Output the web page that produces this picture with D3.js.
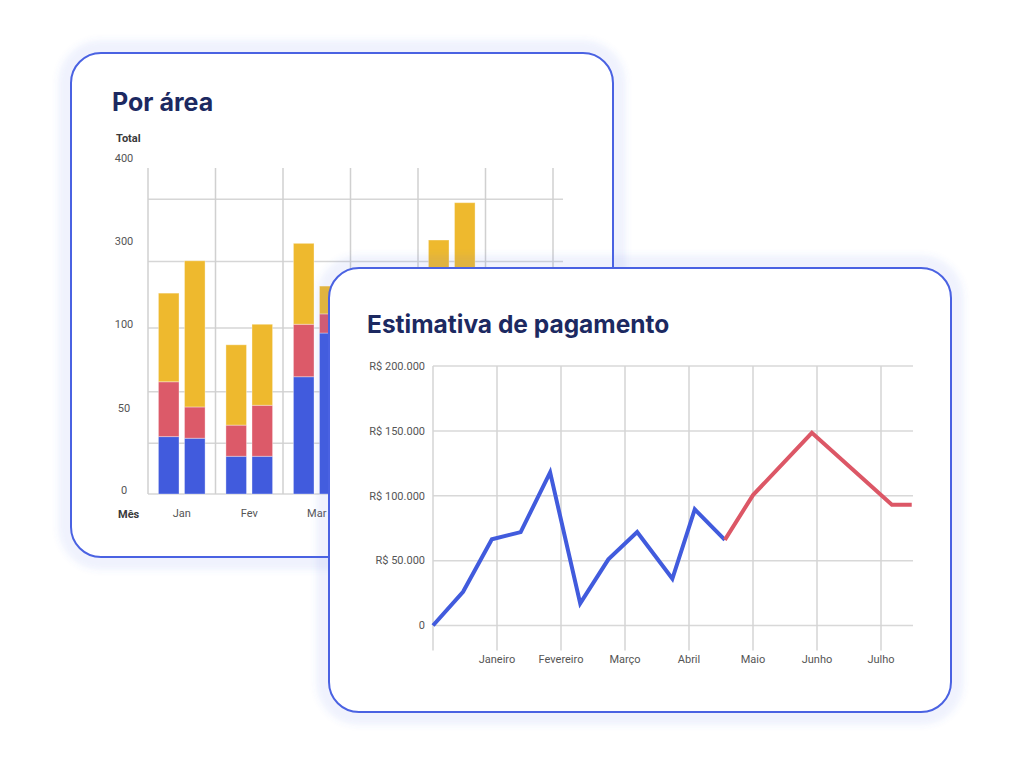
<!DOCTYPE html>
<html>
<head>
<meta charset="utf-8">
<script src="https://cdnjs.cloudflare.com/ajax/libs/d3/7.8.5/d3.min.js"></script>
<style>
    html, body { margin: 0; padding: 0; background: #fff; }
    svg { display: block; }
    .title { font-family: Inter, "Noto Sans", sans-serif; font-weight: 700; fill: #1c2961; }
    .lbl { font-family: Roboto, "Liberation Sans", sans-serif; font-size: 11px; fill: #555; }
    .lbl-bold { font-family: Roboto, "Liberation Sans", sans-serif; font-size: 11px; font-weight: 700; fill: #3a3a3a; }
</style>
</head>
<body>
<div id="chart"></div>
<script>
/* Por área: two stacked bars per month */
var barMonths = ["Jan", "Fev", "Mar", "Abr", "Mai", "Jun"];
var barTicks = [0, 50, 100, 300, 400];
var barGridValues = [0, 31, 62, 100, 260, 355];
var barSeries = ["azul", "vermelho", "amarelo"];

var azul1 = [35, 23, 71, 60, 80, 50];
var vermelho1 = [33, 19, 38, 30, 40, 30];
var amarelo1 = [116, 48, 193, 120, 186, 120];
var azul2 = [34, 23, 97, 70, 90, 60];
var vermelho2 = [19, 31, 37, 25, 50, 35];
var amarelo2 = [209, 55, 67, 100, 211, 130];

/* Estimativa de pagamento */
var lineMonths = ["Janeiro", "Fevereiro", "Março", "Abril", "Maio", "Junho", "Julho"];
var lineTicks = [0, 50000, 100000, 150000, 200000];
var realMonth = [0, 0.47, 0.92, 1.37, 1.83, 2.3, 2.74, 3.19, 3.74, 4.09, 4.56];
var realValue = [0, 26000, 66500, 72000, 118000, 17000, 51000, 72000, 36000, 89500, 66000];
var forecastMonth = [4.56, 5.0, 5.92, 7.17, 7.48];
var forecastValue = [66000, 100500, 148500, 93000, 93000];

var colors = { azul: "#415bdd", vermelho: "#dc5a69", amarelo: "#eeb92e" };

var svg = d3.select("#chart").append("svg")
    .attr("width", 1024)
    .attr("height", 765);

var defs = svg.append("defs");
defs.append("filter").attr("id", "soft")
    .attr("x", "-10%").attr("y", "-10%").attr("width", "120%").attr("height", "120%")
    .append("feGaussianBlur").attr("stdDeviation", 3);

function drawCard(x, y, w, h) {
    var g = svg.append("g");
    g.append("rect")
        .attr("x", x).attr("y", y).attr("width", w).attr("height", h)
        .attr("rx", 30)
        .attr("fill", "none")
        .attr("stroke", "#5a70e6")
        .attr("stroke-opacity", 0.09)
        .attr("stroke-width", 26)
        .attr("filter", "url(#soft)");
    g.append("rect")
        .attr("x", x).attr("y", y).attr("width", w).attr("height", h)
        .attr("rx", 30)
        .attr("fill", "#fff");
    var content = g.append("g");
    g.append("rect")
        .attr("x", x).attr("y", y).attr("width", w).attr("height", h)
        .attr("rx", 30)
        .attr("fill", "none")
        .attr("stroke", "#4a62e2")
        .attr("stroke-width", 2);
    return content;
}

function drawBars() {
    var g = drawCard(71, 53, 542, 504);

    g.append("text").attr("class", "title")
        .attr("x", 112).attr("y", 111)
        .style("font-size", "25px")
        .text("Por área");

    var x = d3.scaleBand().domain(barMonths).range([148, 553]);
    var xSub = d3.scaleBand().domain([0, 1]).range([0, x.bandwidth()])
        .paddingInner(0.21).paddingOuter(0.4);
    var y = d3.scaleLinear().domain(barTicks).range([494, 412, 328, 245, 162]);

    // grid
    g.append("g").selectAll("line")
        .data(barGridValues)
        .enter().append("line")
        .attr("x1", 148).attr("x2", 563)
        .attr("y1", function(d) { return y(d); })
        .attr("y2", function(d) { return y(d); })
        .attr("stroke", "#d6d6d6")
        .attr("stroke-width", 1.5);

    g.append("g").selectAll("line")
        .data(barMonths.concat(["end"]))
        .enter().append("line")
        .attr("x1", function(d) { return d === "end" ? x.range()[1] : x(d); })
        .attr("x2", function(d) { return d === "end" ? x.range()[1] : x(d); })
        .attr("y1", 168).attr("y2", y(0))
        .attr("stroke", "#d0d0d0")
        .attr("stroke-width", 1.5);

    var rows = [];
    barMonths.forEach(function(m, i) {
        rows.push({ month: m, sub: 0, azul: azul1[i], vermelho: vermelho1[i], amarelo: amarelo1[i] });
        rows.push({ month: m, sub: 1, azul: azul2[i], vermelho: vermelho2[i], amarelo: amarelo2[i] });
    });

    var stacked = d3.stack().keys(barSeries)(rows);

    g.append("g").selectAll("g")
        .data(stacked)
        .enter().append("g")
        .attr("fill", function(d) { return colors[d.key]; })
        .selectAll("rect")
        .data(function(d) { return d; })
        .enter().append("rect")
        .attr("x", function(d) { return x(d.data.month) + xSub(d.data.sub); })
        .attr("width", xSub.bandwidth())
        .attr("y", function(d) { return y(d[1]); })
        .attr("height", function(d) { return y(d[0]) - y(d[1]); })
        .attr("stroke", "rgba(255,255,255,0.35)")
        .attr("stroke-width", 1);

    // y labels
    g.append("text").attr("class", "lbl-bold")
        .attr("x", 116).attr("y", 138).attr("dy", "0.35em")
        .text("Total");

    g.append("g").selectAll("text")
        .data(barTicks)
        .enter().append("text")
        .attr("class", "lbl")
        .attr("x", 124)
        .attr("y", function(d) { return y(d) - 4; })
        .attr("dy", "0.35em")
        .attr("text-anchor", "middle")
        .text(function(d) { return d; });

    // x labels
    g.append("text").attr("class", "lbl-bold")
        .attr("x", 118).attr("y", 514).attr("dy", "0.35em")
        .text("Mês");

    g.append("g").selectAll("text")
        .data(barMonths)
        .enter().append("text")
        .attr("class", "lbl")
        .attr("x", function(d) { return x(d) + x.bandwidth() / 2; })
        .attr("y", 513).attr("dy", "0.35em")
        .attr("text-anchor", "middle")
        .text(function(d) { return d; });
}

function drawLine() {
    var g = drawCard(329, 268, 622, 444);

    g.append("text").attr("class", "title")
        .attr("x", 367).attr("y", 333)
        .style("font-size", "24.5px")
        .text("Estimativa de pagamento");

    var x = d3.scaleLinear().domain([0, 7.5]).range([433, 913]);
    var y = d3.scaleLinear().domain([0, 200000]).range([625.5, 366]);

    g.append("g").selectAll("line")
        .data(lineTicks)
        .enter().append("line")
        .attr("x1", x(0)).attr("x2", x(7.5))
        .attr("y1", function(d) { return y(d); })
        .attr("y2", function(d) { return y(d); })
        .attr("stroke", "#d8d8d8")
        .attr("stroke-width", 1.5);

    g.append("g").selectAll("line")
        .data(d3.range(0, lineMonths.length + 1))
        .enter().append("line")
        .attr("x1", function(d) { return x(d); })
        .attr("x2", function(d) { return x(d); })
        .attr("y1", y(200000)).attr("y2", y(0) + 25)
        .attr("stroke", "#d4d4d4")
        .attr("stroke-width", 1.5);

    var fmt = function(d) {
        return d === 0 ? "0" : "R$ " + d3.format(",")(d).replace(/,/g, ".");
    };

    g.append("g").selectAll("text")
        .data(lineTicks)
        .enter().append("text")
        .attr("class", "lbl")
        .attr("x", 425)
        .attr("y", function(d) { return y(d); })
        .attr("dy", "0.35em")
        .attr("text-anchor", "end")
        .text(fmt);

    g.append("g").selectAll("text")
        .data(lineMonths)
        .enter().append("text")
        .attr("class", "lbl")
        .attr("x", function(d, i) { return x(i + 1); })
        .attr("y", 659).attr("dy", "0.35em")
        .attr("text-anchor", "middle")
        .text(function(d) { return d; });

    var line = d3.line()
        .x(function(d) { return x(d[0]); })
        .y(function(d) { return y(d[1]); });

    g.append("path")
        .datum(d3.zip(realMonth, realValue))
        .attr("d", line)
        .attr("fill", "none")
        .attr("stroke", "#415bdd")
        .attr("stroke-width", 4)
        .attr("stroke-linejoin", "miter");

    g.append("path")
        .datum(d3.zip(forecastMonth, forecastValue))
        .attr("d", line)
        .attr("fill", "none")
        .attr("stroke", "#dc5766")
        .attr("stroke-width", 4)
        .attr("stroke-linejoin", "miter");
}

drawBars();
drawLine();
</script>
</body>
</html>
